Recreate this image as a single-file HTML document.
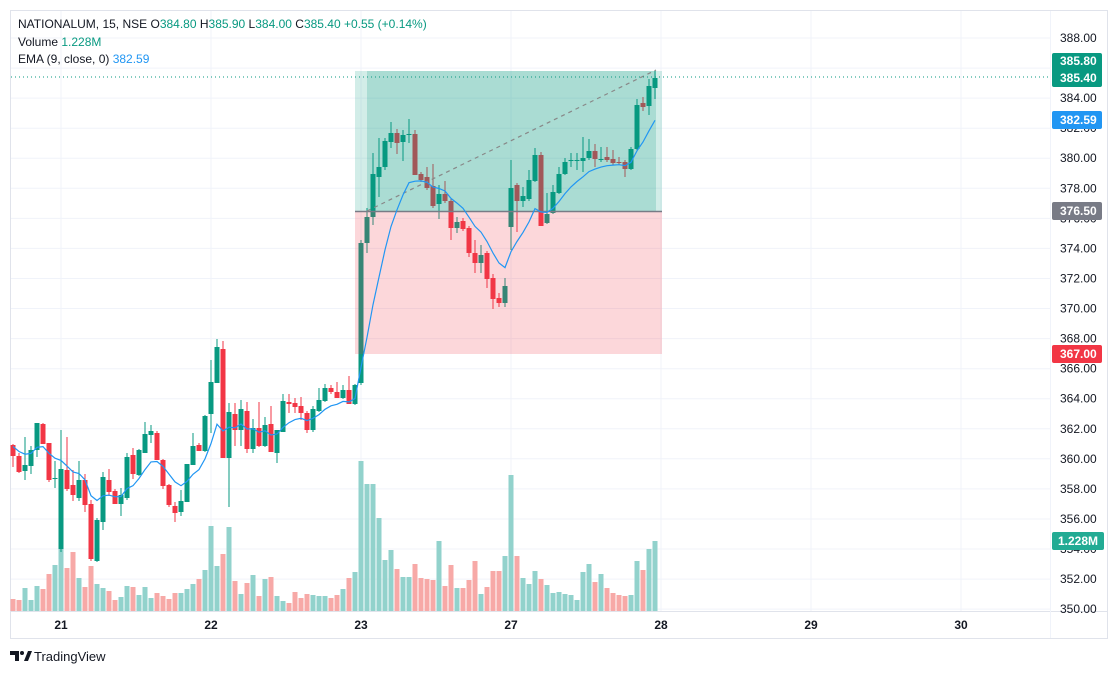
<!DOCTYPE html>
<html><head><meta charset="utf-8"><style>
body{margin:0;background:#fff;width:1118px;height:674px;overflow:hidden;font-family:"Liberation Sans",sans-serif}
</style></head><body>
<svg id="s" width="1118" height="674" xmlns="http://www.w3.org/2000/svg" font-family="Liberation Sans, sans-serif">
</svg>
<script>
var s=document.getElementById('s');var h='';
h+='<rect x="10.5" y="10.5" width="1097" height="628" fill="none" stroke="#e0e3eb"/>';
for(var p=388;p>=350;p-=2){var y=38+(388-p)*15.03;h+='<line x1="11" x2="1050" y1="'+y.toFixed(1)+'" y2="'+y.toFixed(1)+'" stroke="#f0f3fa"/>';}
[61,211,361,511,661,811,961].forEach(function(x){h+='<line x1="'+x+'" x2="'+x+'" y1="11" y2="611" stroke="#f0f3fa"/>';});
h+='<line x1="11" x2="1107" y1="611.5" y2="611.5" stroke="#e0e3eb"/>';
h+='<line x1="1050.5" x2="1050.5" y1="11" y2="638" stroke="#f0f3fa"/>';
var V=[447,450,414,450,408,417,372,345,297,354,306,384,411,348,402,414,423,450,441,408,411,435,411,444,429,438,447,429,429,417,402,387,360,228,348,312,231,393,432,399,375,438,387,381,438,453,459,426,444,432,435,438,438,444,435,417,384,366,33,102,102,204,330,300,357,381,381,342,384,387,390,273,408,345,414,414,390,333,432,411,363,363,318,75,318,384,402,363,387,405,429,426,432,435,450,366,342,396,372,414,429,435,438,435,333,360,297,273];
var C=[[445,456,444,467],[456,472,453,473],[471,465,437,480],[466,450,446,474],[450,423,423,457],[424,444,423,444],[443,480,443,482],[478.5,478,461,488],[549,469,430,552],[470,489,437,491],
[485,495,470,501],[498,480,461,501],[480,505,474,512],[504,559,500,561],[561,520,518,562],[522,477,472,530],[480,492,469,496],[491,504,489,504],[504,495,488,516],[498,457,453,500],
[455,474,448,479],[475,450,449,476],[453,434,422,453],[435,431,425,443],[433,460,431,460],[460,486,459,489],[485,505,484,507],[506,513,502,522],[512,501,490,516],[502,464,464,502],
[465,446,433,465],[445,451,443,451],[451,416,415,452],[414,382,360,433],[383,347,339,383],[349,458,341,458],[458,412,403,507],[414,430,403,446],[430,409,400,446],[411,449,402,453],
[449,428,419,453],[428,446,402,447],[446,425,417,447],[424,452,406,452],[453,430,430,463],[432,401,394,432],[402,404,394,413],[403,407,398,413],[406,413,397,420],[413,430,411,433],
[430,409,406,432],[411,400,388,412],[401,388,384,402],[388,392,385,394],[392,398,382,398],[398,390,385,399],[390,404,376,404],[404,385,384,405],[383,243,240,385],[243,217,208,253],
[217,174,153,225],[177,167,138,197],[167,141,138,170],[142,133,122,148],[133,143,129,154],[142,135,130,161],[134.5,134,119,143],[134,175,130,175],[174,180,172,182],[177,188,167,190],
[186,206,164,208],[204,194,185,219],[194,201,181,203],[201,228,199,240],[228,222,217,233],[221,229,218,231],[228,253,226,257],[253,263,240,273],[263,255,245,273],[253,279,251,288],
[278,299,274,309],[298,303,293,307],[303,286,278,307],[227,188,160,250],[185,201,183,232],[201,196,187,207],[199,180,170,201],[181,155,148,182],[155,226,152,226],[223,214,193,224],
[213,192,185,214],[193,174,167,194],[174,162,158,175],[160.5,160,153,167],[160.5,160,153,170],[161,158,137,172],[158,151,139,160],[151,159,144,167],[159.5,159,147,162],[157,160,147,162],
[159,163,150,165],[162,163,157,165],[162,169,160,177],[169,149,147,170],[149,105,99,150],[103,107,97,111],[106,86,79,115],[88,78,70,99]];
for(var i=0;i<C.length;i++){var x=13+i*6,c=C[i],up=c[1]<=c[0];
 var vy=V[i]/3+450;h+='<rect x="'+(x-2.5)+'" y="'+vy.toFixed(1)+'" width="5" height="'+(611-vy).toFixed(1)+'" fill="'+(up?'#92d2cc':'#f7a9a7')+'"/>';}
for(var i=0;i<C.length;i++){var x=13+i*6,c=C[i],up=c[1]<=c[0];var col=up?'#089981':'#f23645';
 h+='<line x1="'+x+'" x2="'+x+'" y1="'+c[2]+'" y2="'+c[3]+'" stroke="'+col+'"/>';
 var t=Math.min(c[0],c[1]),b=Math.max(c[0],c[1]);if(b-t<1)b=t+1;
 h+='<rect x="'+(x-2.5)+'" y="'+t+'" width="5" height="'+(b-t)+'" fill="'+col+'"/>';}
// position box over candles
h+='<rect x="355" y="71" width="307" height="141" fill="#089981" opacity="0.18"/>';
h+='<rect x="367" y="71" width="289" height="141" fill="#089981" opacity="0.2"/>';
h+='<rect x="355" y="212" width="307" height="142" fill="#f23645" opacity="0.2"/>';
h+='<line x1="355" x2="662" y1="211.5" y2="211.5" stroke="#787b86" stroke-width="1.5"/>';
h+='<line x1="367" x2="656" y1="211" y2="70" stroke="#888" stroke-dasharray="4,4" stroke-width="1.2"/>';
var e=444,pts=[];var k=0.2;
for(var i=0;i<C.length;i++){e=e+k*(C[i][1]-e);pts.push((13+i*6)+','+e.toFixed(1));}
h+='<polyline points="'+pts.join(' ')+'" fill="none" stroke="#2196f3" stroke-width="1.2"/>';
h+='<line x1="11" x2="1050" y1="77" y2="77" stroke="#089981" stroke-dasharray="1,3"/>';
for(var p=388;p>=350;p-=2){var y=38+(388-p)*15.03;h+='<text x="1060" y="'+(y+4).toFixed(1)+'" font-size="12" fill="#131722">'+p.toFixed(2)+'</text>';}
function badge(y,t,col){h+='<rect x="1052" y="'+(y-9)+'" width="50" height="18" rx="2" fill="'+col+'"/><text x="1060" y="'+(y+4)+'" font-size="12" font-weight="bold" fill="#fff">'+t+'</text>';}
h+='<rect x="1052" y="53" width="50" height="34" rx="2" fill="#089981"/><text x="1060" y="65" font-size="12" font-weight="bold" fill="#fff">385.80</text><text x="1060" y="82" font-size="12" font-weight="bold" fill="#fff">385.40</text>';
badge(120,'382.59','#2196f3');badge(211,'376.50','#787b86');badge(354,'367.00','#f23645');
h+='<rect x="1052" y="532" width="52" height="18" rx="2" fill="#22ab94"/><text x="1058" y="545" font-size="12" font-weight="bold" fill="#fff">1.228M</text>';
[[61,'21'],[211,'22'],[361,'23'],[511,'27'],[661,'28'],[811,'29'],[961,'30']].forEach(function(a){h+='<text x="'+a[0]+'" y="629" font-size="12" font-weight="bold" fill="#131722" text-anchor="middle">'+a[1]+'</text>';});
h+='<text x="18" y="28" font-size="12" fill="#131722">NATIONALUM, 15, NSE  O<tspan fill="#089981">384.80</tspan>  H<tspan fill="#089981">385.90</tspan>  L<tspan fill="#089981">384.00</tspan>  C<tspan fill="#089981">385.40</tspan>  <tspan fill="#089981">+0.55 (+0.14%)</tspan></text>';
h+='<text x="18" y="46" font-size="12" fill="#131722">Volume  <tspan fill="#089981">1.228M</tspan></text>';
h+='<text x="18" y="63" font-size="12" fill="#131722">EMA (9, close, 0)  <tspan fill="#2196f3">382.59</tspan></text>';
h+='<path d="M10 651h9v10h-4v-6h-5z" fill="#131722"/><circle cx="22" cy="653" r="2" fill="#131722"/><path d="M24 661l4-10h4l-4 10z" fill="#131722"/>';
h+='<text x="34" y="661" font-size="13" fill="#131722">TradingView</text>';
s.innerHTML=h;
</script>
</body></html>
